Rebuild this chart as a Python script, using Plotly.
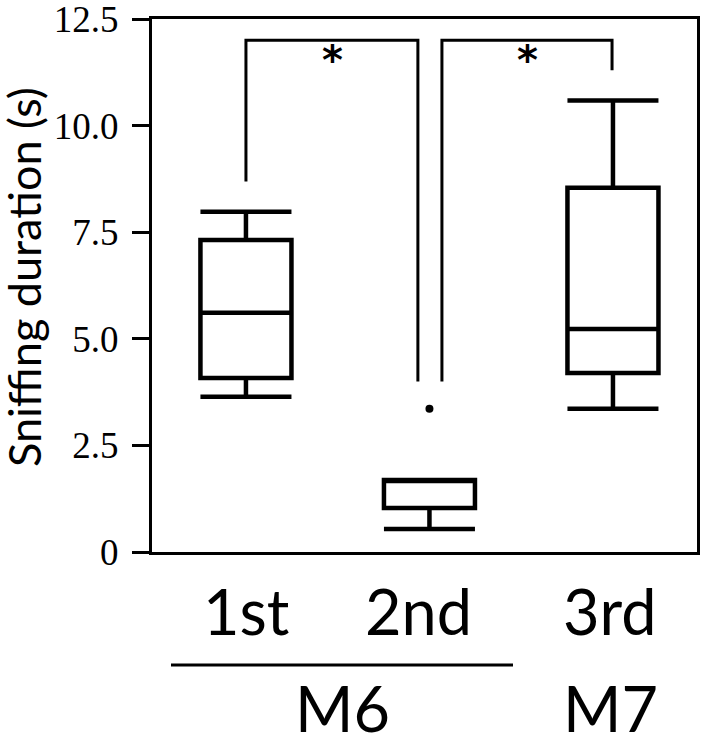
import plotly.graph_objects as go

# ---- data ----
groups = ["1st", "2nd", "3rd"]
mice = ["M6", "M7"]
q1 = [4.08, 1.03, 4.20]
median = [5.61, 1.69, 5.23]
q3 = [7.32, 1.69, 8.54]
lower = [3.64, 0.54, 3.36]
upper = [7.98, 1.69, 10.59]
outlier_group = [1]
outlier_value = [3.36]
y_ticks = [0, 2.5, 5.0, 7.5, 10.0, 12.5]
y_tick_text = ["0", "2.5", "5.0", "7.5", "10.0", "12.5"]

xpos = list(range(len(groups)))

W, H = 708, 740
L, T = 152, 19
R = W - 697
B = H - 552
pw, ph = W - L - R, H - T - B

def px_to_paper_x(px):
    return (px - L) / pw

def px_to_paper_y(py):
    return (H - B - py) / ph

fig = go.Figure()
fig.add_trace(go.Box(
    x=xpos, q1=q1, median=median, q3=q3,
    lowerfence=lower, upperfence=upper,
    width=0.496, whiskerwidth=1,
    line=dict(color="black", width=4.5),
    fillcolor="white", boxpoints=False, showlegend=False,
))
fig.add_trace(go.Scatter(
    x=outlier_group, y=outlier_value, mode="markers",
    marker=dict(color="black", size=8), showlegend=False,
))

# significance brackets
br_top = 12.0
fig.add_shape(type="path", xref="x", yref="y",
              path=f"M 0,8.69 L 0,{br_top} L 0.937,{br_top} L 0.937,4.0",
              line=dict(color="black", width=3))
fig.add_shape(type="path", xref="x", yref="y",
              path=f"M 1.068,4.0 L 1.068,{br_top} L 1.995,{br_top} L 1.995,11.3",
              line=dict(color="black", width=3))
for sx in [0.469, 1.532]:
    fig.add_annotation(x=sx, y=11.55, xref="x", yref="y", text="<b>*</b>",
                       showarrow=False, font=dict(family="DejaVu Sans", size=40, color="black"),
                       yanchor="middle", xanchor="center")

# group labels
label_x = [0.0, 0.943, 1.984]
for g, lx in zip(groups, label_x):
    fig.add_annotation(x=lx, xref="x", y=px_to_paper_y(610), yref="paper",
                       text=g, showarrow=False, yanchor="middle", xanchor="center",
                       font=dict(family="Lato", size=63, color="black"))
# underline for M6
fig.add_shape(type="line", xref="paper", yref="paper",
              x0=px_to_paper_x(171), x1=px_to_paper_x(513),
              y0=px_to_paper_y(665), y1=px_to_paper_y(665),
              line=dict(color="black", width=3))
mouse_x = [0.524, 1.984]
for m, mx in zip(mice, mouse_x):
    fig.add_annotation(x=mx, xref="x", y=px_to_paper_y(707), yref="paper",
                       text=m, showarrow=False, yanchor="middle", xanchor="center",
                       font=dict(family="Lato", size=63, color="black"))

# y-axis title
fig.add_annotation(x=px_to_paper_x(24), xref="paper", y=px_to_paper_y(277), yref="paper",
                   text="Sniffing duration (s)", textangle=-90, showarrow=False,
                   xanchor="center", yanchor="middle",
                   font=dict(family="Lato", size=45, color="black"))

fig.update_layout(
    width=W, height=H,
    margin=dict(l=L, r=R, t=T, b=B, pad=0, autoexpand=False),
    plot_bgcolor="white", paper_bgcolor="white",
    xaxis=dict(range=[-0.512, 2.458], showgrid=False, zeroline=False,
               showticklabels=False, ticks="", showline=True, linecolor="black",
               linewidth=3, mirror=True, automargin=False),
    yaxis=dict(range=[0, 12.5], tickvals=y_ticks, ticktext=y_tick_text,
               showgrid=False, zeroline=False, ticks="outside", ticklen=17,
               tickwidth=3, tickcolor="black", showline=True, linecolor="black",
               linewidth=3, mirror=True, ticklabelstandoff=6,
               ticklabeloverflow="allow", automargin=False,
               tickfont=dict(family="Liberation Serif", size=37, color="black")),
)

fig.write_html("out.html", config={"displayModeBar": False},
               post_script="document.body.style.margin='0';")
